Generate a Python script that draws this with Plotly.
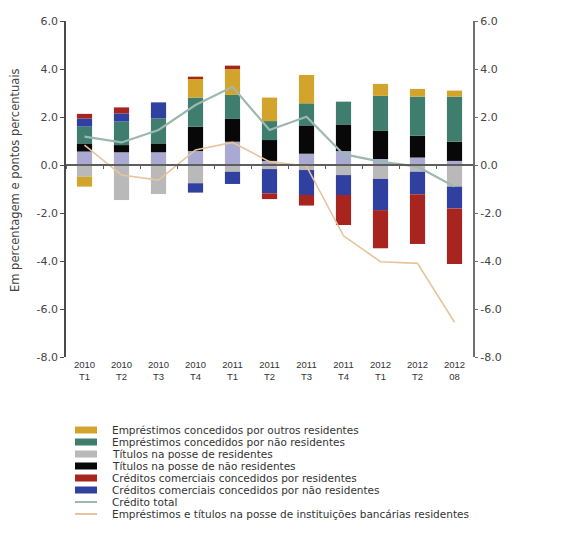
import plotly.graph_objects as go

# Quarters / periods
periodos = ["2010 T1", "2010 T2", "2010 T3", "2010 T4", "2011 T1", "2011 T2",
            "2011 T3", "2011 T4", "2012 T1", "2012 T2", "2012 08"]
rotulos = ["2010<br>T1", "2010<br>T2", "2010<br>T3", "2010<br>T4", "2011<br>T1",
           "2011<br>T2", "2011<br>T3", "2011<br>T4", "2012<br>T1", "2012<br>T2",
           "2012<br>08"]

# Contributions (percentage points)
outros = [0.56, 0.53, 0.53, 0.58, 0.97, 0.17, 0.47, 0.58, 0.25, 0.31, 0.17]
titulos_res = [-0.49, -1.46, -1.21, -0.76, -0.28, -0.17, -0.21, -0.42, -0.58, -0.28, -0.90]
titulos_nres = [0.34, 0.30, 0.37, 1.02, 0.95, 0.87, 1.18, 1.11, 1.17, 0.91, 0.80]
emp_nres = [0.70, 0.98, 1.04, 1.21, 1.00, 0.79, 0.92, 0.95, 1.46, 1.63, 1.88]
cred_com_nres = [0.34, 0.34, 0.67, -0.39, -0.51, -1.01, -1.04, -0.83, -1.30, -0.94, -0.91]
emp_outros_res = [-0.41, 0.0, 0.0, 0.80, 1.08, 0.98, 1.18, 0.0, 0.50, 0.32, 0.25]
cred_com_res = [0.19, 0.25, 0.0, 0.07, 0.14, -0.24, -0.44, -1.25, -1.59, -2.07, -2.32]

# Lines (%)
credito_total = [1.18, 0.94, 1.46, 2.50, 3.26, 1.46, 2.01, 0.45, 0.14, -0.07, -0.90]
emp_bancarias = [0.83, -0.42, -0.63, 0.63, 0.94, 0.14, -0.05, -2.95, -4.03, -4.10, -6.55]

y_ticks = [6, 4, 2, 0, -2, -4, -6, -8]
y_labels = ["6.0", "4.0", "2.0", "0.0", "-2.0", "-4.0", "-6.0", "-8.0"]

N_OUT = "Outros"
N_EOR = "Empréstimos concedidos por outros residentes"
N_ENR = "Empréstimos concedidos por não residentes"
N_TR = "Títulos na posse de residentes"
N_TNR = "Títulos na posse de não residentes"
N_CCR = "Créditos comerciais concedidos por residentes"
N_CCNR = "Créditos comerciais concedidos por não residentes"
N_CT = "Crédito total"
N_EB = "Empréstimos e títulos na posse de instituições bancárias residentes"

cores = {
    N_OUT: "#a9a9d2",
    N_TR: "#b9b9b9",
    N_TNR: "#080808",
    N_ENR: "#3f7d6f",
    N_CCNR: "#2f40a0",
    N_EOR: "#d3a42c",
    N_CCR: "#a8241e",
    N_CT: "#9db8b0",
    N_EB: "#e6c49c",
}

# stacking order (first = closest to zero)
barras = [
    (N_OUT, outros),
    (N_TR, titulos_res),
    (N_TNR, titulos_nres),
    (N_ENR, emp_nres),
    (N_CCNR, cred_com_nres),
    (N_EOR, emp_outros_res),
    (N_CCR, cred_com_res),
]

fig = go.Figure()
for nome, vals in barras:
    fig.add_trace(go.Bar(x=periodos, y=vals, name=nome, marker_color=cores[nome],
                         marker_line_width=0, showlegend=False))

fig.add_trace(go.Scatter(x=periodos, y=credito_total, name=N_CT, mode="lines",
                         line=dict(color=cores[N_CT], width=2.2), xaxis="x2", yaxis="y",
                         showlegend=False))
fig.add_trace(go.Scatter(x=periodos, y=emp_bancarias, name=N_EB, mode="lines",
                         line=dict(color=cores[N_EB], width=1.6), xaxis="x2", yaxis="y2",
                         showlegend=False))

# plot area in pixels
W, H = 581, 554
L, R, T, B = 66, 473, 21, 357


def fx(px):
    return (px - L) / (R - L)


def fy(py):
    return (B - py) / (B - T)


ymin, ymax = -8, 6
zero_pos = (0 - ymin) / (ymax - ymin)

tick_font = dict(family="DejaVu Sans", size=11, color="#444444")

fig.update_layout(
    width=W, height=H,
    margin=dict(l=L, r=W - R, t=T, b=H - B, pad=0),
    paper_bgcolor="white", plot_bgcolor="white",
    barmode="relative", bargap=0.59,
    xaxis=dict(type="category", categoryorder="array", categoryarray=periodos,
               range=[-0.5, 10.5], anchor="free", position=zero_pos,
               showline=True, linecolor="#5e5e5e", linewidth=2,
               ticks="outside", tickson="boundaries", ticklen=3, tickwidth=1,
               tickcolor="#5e5e5e", showticklabels=False, showgrid=False, zeroline=False),
    xaxis2=dict(type="category", categoryorder="array", categoryarray=periodos,
                range=[-0.5, 10.5], overlaying="x", anchor="y", side="bottom",
                tickmode="array", tickvals=periodos, ticktext=rotulos,
                ticks="", showline=False, showgrid=False, zeroline=False,
                tickfont=dict(family="Liberation Sans", size=9.5, color="#333333")),
    yaxis=dict(range=[ymin, ymax], tickmode="array", tickvals=y_ticks, ticktext=y_labels,
               showline=True, linecolor="#4a4a4a", linewidth=1.5,
               ticks="outside", ticklen=4, tickcolor="#4a4a4a",
               showgrid=False, zeroline=False, tickfont=tick_font),
    yaxis2=dict(range=[ymin, ymax], tickmode="array", tickvals=y_ticks, ticktext=y_labels,
                overlaying="y", side="right", anchor="x",
                showline=True, linecolor="#707070", linewidth=2,
                ticks="outside", ticklen=3, tickcolor="#707070",
                showgrid=False, zeroline=False, tickfont=tick_font),
    showlegend=False,
)

# axis title
fig.add_annotation(text="Em percentagem e pontos percentuais", textangle=-90,
                   xref="paper", yref="paper", x=fx(15), y=fy(180),
                   showarrow=False, xanchor="center", yanchor="middle",
                   font=dict(family="DejaVu Sans", size=11.5, color="#444444"))

# key below the chart
legenda = [N_EOR, N_ENR, N_TR, N_TNR, N_CCR, N_CCNR, N_CT, N_EB]
linhas = {N_CT, N_EB}
row0, step = 430, 12
for i, nome in enumerate(legenda):
    yc = row0 + i * step
    if nome in linhas:
        fig.add_shape(type="line", xref="paper", yref="paper",
                      x0=fx(75), x1=fx(97), y0=fy(yc), y1=fy(yc),
                      line=dict(color=cores[nome], width=2))
    else:
        fig.add_shape(type="rect", xref="paper", yref="paper",
                      x0=fx(75), x1=fx(97), y0=fy(yc - 3.5), y1=fy(yc + 3.5),
                      fillcolor=cores[nome], line_width=0)
    fig.add_annotation(text=nome, xref="paper", yref="paper", x=fx(110), y=fy(yc),
                       showarrow=False, xanchor="left", yanchor="middle",
                       font=dict(family="DejaVu Sans", size=10.5, color="#333333"))

fig.write_html("out.html")
